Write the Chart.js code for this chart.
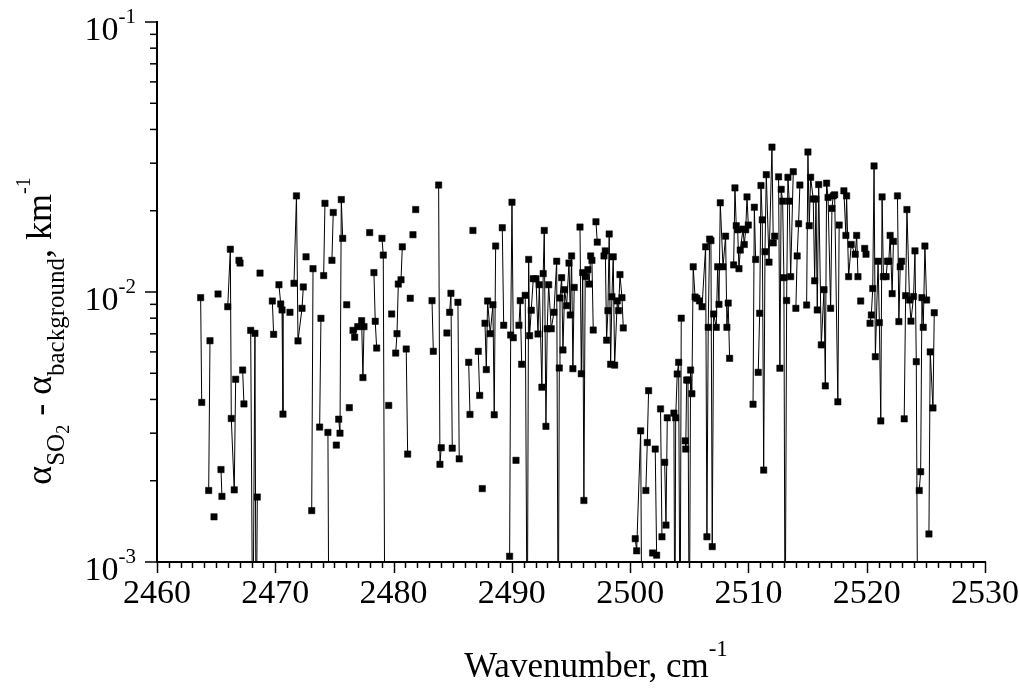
<!DOCTYPE html>
<html>
<head>
<meta charset="utf-8">
<title>SO2 minus background absorption</title>
<script src="https://cdn.jsdelivr.net/npm/chart.js@4.4.1/dist/chart.umd.min.js"></script>
<style>
  body { margin: 0; background: #fff; }
  #wrap { width: 1019px; height: 689px; }
</style>
</head>
<body>
<div id="wrap"><canvas id="chart" width="1019" height="689"></canvas></div>
<script>
// x values (cm-1); a null in alphaDiff breaks the line like a missing point
var wavenumber = [
  2463.69, 2463.78, 2464.00, 2464.37, 2464.48, 2464.65, 2464.82, 2465.00, 2465.16, 2465.30,
  2465.41, 2465.49, 2465.70, 2465.98, 2466.20, 2466.28, 2466.53, 2466.65, 2466.80, 2466.93,
  2467.02, 2467.10, 2467.24, 2467.35, 2467.60, 2467.92, 2468.10, 2468.28, 2468.38, 2468.48,
  2468.60, 2468.71, 2469.20, 2469.75, 2469.86, 2470.10, 2470.31, 2470.46, 2470.57, 2470.65,
  2470.90, 2471.24, 2471.40, 2471.58, 2471.79, 2471.92, 2472.26, 2472.37, 2472.50, 2472.60,
  2472.80, 2473.08, 2473.19, 2473.50, 2473.75, 2473.86, 2474.00, 2474.09, 2474.20, 2474.30,
  2474.45, 2474.54, 2474.65, 2474.79, 2474.90, 2475.00, 2475.16, 2475.25, 2475.36, 2475.47,
  2475.58, 2475.70, 2475.85, 2476.04, 2476.15, 2476.26, 2476.40, 2476.57, 2476.71, 2476.97,
  2477.30, 2477.41, 2477.50, 2477.70, 2477.98, 2478.20, 2478.34, 2478.45, 2478.57, 2478.80,
  2479.02, 2479.13, 2479.27, 2479.40, 2479.59, 2479.70, 2479.84, 2480.00, 2480.18, 2480.29,
  2480.40, 2480.63, 2480.74, 2480.90, 2481.07, 2481.19, 2481.30, 2481.41, 2481.50, 2481.64,
  2481.75, 2481.87, 2482.50, 2483.25, 2483.36, 2483.60, 2483.81, 2483.92, 2484.03, 2484.30,
  2484.51, 2484.60, 2484.74, 2484.85, 2484.96, 2485.20, 2485.44, 2485.55, 2485.90, 2486.35,
  2486.46, 2486.60, 2486.71, 2486.90, 2487.16, 2487.28, 2487.40, 2487.50, 2487.60, 2487.73,
  2487.84, 2487.95, 2488.17, 2488.40, 2488.51, 2488.63, 2488.90, 2489.19, 2489.31, 2489.60,
  2489.81, 2489.90, 2490.01, 2490.12, 2490.25, 2490.35, 2490.50, 2490.60, 2490.71, 2490.83,
  2491.00, 2491.13, 2491.30, 2491.42, 2491.50, 2491.64, 2491.81, 2492.04, 2492.21, 2492.32,
  2492.54, 2492.65, 2492.74, 2492.88, 2492.99, 2493.11, 2493.33, 2493.56, 2493.79, 2493.92,
  2494.01, 2494.07, 2494.21, 2494.32, 2494.46, 2494.63, 2494.83, 2494.94, 2495.05, 2495.16,
  2495.27, 2495.50, 2495.76, 2495.87, 2495.99, 2496.09, 2496.20, 2496.43, 2496.54, 2496.66,
  2496.77, 2496.88, 2497.00, 2497.11, 2497.22, 2497.50, 2497.79, 2497.90, 2498.01, 2498.12,
  2498.23, 2498.35, 2498.46, 2498.57, 2498.69, 2498.91, 2499.02, 2499.14, 2499.31, 2499.42,
  2499.90, 2500.43, 2500.55, 2500.89, 2501.00, 2501.20, 2501.33, 2501.45, 2501.56, 2501.70,
  2501.90, 2502.00, 2502.12, 2502.24, 2502.40, 2502.57, 2502.69, 2502.80, 2502.92, 2503.03,
  2503.14, 2503.40, 2503.70, 2503.78, 2503.85, 2503.98, 2504.10, 2504.22, 2504.32, 2504.50,
  2504.66, 2504.70, 2504.78, 2504.89, 2505.00, 2505.11, 2505.22, 2505.33, 2505.49, 2505.64,
  2505.86, 2506.08, 2506.38, 2506.49, 2506.60, 2506.72, 2506.83, 2506.94, 2507.06, 2507.28,
  2507.40, 2507.51, 2507.62, 2507.85, 2508.07, 2508.18, 2508.29, 2508.41, 2508.60, 2508.75,
  2508.86, 2508.97, 2509.09, 2509.20, 2509.31, 2509.54, 2509.65, 2509.77, 2509.88, 2509.99,
  2510.20, 2510.39, 2510.50, 2510.61, 2510.70, 2510.83, 2510.95, 2511.06, 2511.17, 2511.29,
  2511.40, 2511.51, 2511.74, 2511.99, 2512.10, 2512.22, 2512.40, 2512.55, 2512.66, 2512.77,
  2512.89, 2513.00, 2513.10, 2513.23, 2513.34, 2513.45, 2513.57, 2513.79, 2513.90, 2514.01,
  2514.12, 2514.24, 2514.35, 2514.60, 2514.92, 2515.03, 2515.14, 2515.26, 2515.48, 2515.60,
  2515.71, 2515.82, 2515.94, 2516.16, 2516.39, 2516.50, 2516.61, 2516.73, 2516.95, 2517.06,
  2517.17, 2517.29, 2517.56, 2517.67, 2517.85, 2518.07, 2518.24, 2518.30, 2518.47, 2518.69,
  2519.03, 2519.15, 2519.26, 2519.40, 2519.49, 2519.65, 2519.83, 2519.94, 2520.10, 2520.28,
  2520.39, 2520.51, 2520.62, 2520.73, 2520.96, 2521.07, 2521.19, 2521.30, 2521.41, 2521.64,
  2521.75, 2521.87, 2521.98, 2522.15, 2522.26, 2522.45, 2522.60, 2522.72, 2522.83, 2522.95,
  2523.05, 2523.17, 2523.29, 2523.40, 2523.62, 2523.74, 2523.96, 2524.08, 2524.19, 2524.32,
  2524.38, 2524.44, 2524.56, 2524.67, 2524.78, 2524.92, 2525.06, 2525.15, 2525.26, 2525.37,
  2525.60, 2525.71
];

// alpha(SO2) - alpha(background), km-1 ; 0.0004 = dips below the 1e-3 floor
var alphaDiff = [
  0.00953, 0.0039, null, 0.00184, 0.0066, null, 0.00147, null, 0.00983, null,
  0.0022, 0.00175, null, 0.00882, 0.0144, 0.0034, 0.00185, 0.00475, null, 0.0131,
  0.0128, null, 0.00514, 0.00385, null, 0.00721, 0.0004, 0.00703, 0.0004, 0.00174,
  null, 0.01175, null, 0.00926, 0.00697, null, 0.01064, 0.00903, 0.00858, 0.00353,
  null, 0.00841, null, 0.01077, 0.0227, 0.00659, 0.0087, 0.01044, null, 0.0135,
  null, 0.00155, 0.0122, null, 0.00316, 0.00799, null, 0.0115, 0.0213, null,
  0.00302, 0.0004, null, 0.0131, 0.0197, null, 0.00271, null, 0.00338, 0.003,
  0.022, 0.0158, null, 0.00897, null, 0.00373, null, 0.00721, 0.0068, 0.00744,
  0.00783, 0.00482, 0.00744, null, 0.0166, null, 0.0118, 0.00779, 0.0062, null,
  0.0158, 0.0137, 0.0004, null, 0.0038, null, 0.00829, null, 0.00594, 0.00701,
  0.0107, 0.0111, 0.0147, null, 0.00615, 0.00251, null, 0.00948, null, 0.0163,
  null, 0.0202, null, 0.00929, 0.00603, null, 0.0249, 0.0023, 0.00265, null,
  0.00705, null, 0.00841, 0.00989, 0.00264, null, 0.00916, 0.00241, null, 0.00549,
  0.00352, null, 0.0169, null, 0.00603, 0.00414, null, 0.00187, null, 0.00766,
  0.00516, 0.00926, 0.00701, 0.00897, 0.00351, 0.0148, null, 0.0173, 0.00753, null,
  0.00105, 0.00693, 0.0215, 0.00677, null, 0.00238, null, 0.00753, 0.00929, 0.0054,
  null, 0.00972, 0.0004, 0.0132, 0.00689, 0.00856, 0.0112, 0.0112, 0.00699, 0.01064,
  0.00444, 0.0117, 0.0169, 0.00318, 0.00731, 0.01064, 0.00731, 0.00841, 0.013, 0.0004,
  0.00523, 0.0095, 0.0113, 0.0061, 0.0102, 0.0089, 0.0128, 0.00822, 0.0136, 0.0052,
  0.0104, null, 0.0174, 0.00498, 0.0118, 0.00169, 0.0114, 0.0121, 0.0107, 0.0136,
  0.0131, 0.00723, null, 0.0182, 0.0153, null, 0.0136, 0.0142, 0.00663, 0.00853,
  0.0164, 0.0054, 0.0096, 0.0135, 0.00536, 0.00927, 0.00853, 0.0116, 0.00953, 0.00736,
  null, 0.00122, 0.0011, 0.00306, 0.0004, null, 0.00184, 0.00277, 0.00431, null,
  0.00108, null, 0.00262, 0.00106, null, 0.00369, 0.00124, null, 0.00234, 0.00137,
  0.00342, null, 0.00356, 0.0004, 0.00342, 0.00497, 0.00549, 0.0004, 0.008, null,
  0.00281, 0.00262, 0.00472, 0.00472, 0.0004, 0.00514, 0.0042, 0.0124, 0.00958, 0.00947,
  0.00927, 0.00882, 0.0147, 0.00124, 0.0074, 0.0157, 0.0155, 0.00114, 0.00829, 0.0074,
  0.0124, 0.009, 0.0214, 0.0124, 0.0161, 0.0074, 0.0091, 0.00568, null, 0.0126,
  0.0243, 0.0176, 0.017, 0.0122, 0.0143, 0.0171, 0.015, 0.017, 0.0225, 0.0177,
  null, 0.00384, 0.0206, 0.0132, null, 0.00504, 0.00834, 0.0248, 0.0185, 0.00219,
  0.0141, 0.0272, 0.0129, 0.0344, 0.0152, 0.0161, null, 0.0267, 0.00522, 0.024,
  0.0217, 0.0113, 0.0004, 0.0093, 0.0266, 0.0217, 0.0114, 0.0279, null, 0.0087,
  0.0136, 0.0179, 0.0249, null, 0.00895, 0.033, 0.0176, 0.0266, 0.0221, 0.011,
  0.0221, 0.00858, 0.025, 0.00637, 0.0102, 0.00449, 0.0253, 0.0224, 0.0087, 0.0204,
  0.0227, 0.0229, 0.00392, 0.0177, null, 0.0237, 0.0162, 0.0227, 0.0114, 0.015,
  0.0138, 0.0162, 0.0114, null, 0.00926, null, 0.0145, 0.0138, null, 0.00766,
  0.00822, 0.0103, 0.0293, 0.00576, 0.013, 0.0077, 0.00333, 0.0225, 0.0114, 0.0114,
  0.013, 0.013, 0.0162, 0.00986, 0.0154, null, 0.0227, 0.00777, 0.0124, 0.013,
  null, 0.00339, 0.00969, 0.0202, 0.00934, 0.0078, 0.00962, 0.0142, 0.00552, 0.0004,
  null, 0.00184, 0.00216, 0.00953, 0.0074, 0.0148, 0.00934, null, 0.00127, 0.006,
  0.00372, 0.00838
];

var xMin = 2460;
var xMax = 2530;
var xTickValues = [2460, 2470, 2480, 2490, 2500, 2510, 2520, 2530];
var xTickLabels = ["2460", "2470", "2480", "2490", "2500", "2510", "2520", "2530"];
var yTickValues = [0.001, 0.01, 0.1];
var yTickExponents = ["-3", "-2", "-1"];

var SERIF = '"Liberation Serif", "Times New Roman", serif';

// draws a row of text pieces with their own size and vertical shift (sub/superscripts)
function drawRuns(ctx, runs, x, y, align) {
    var total = 0;
    for (var i = 0; i < runs.length; i++) {
        ctx.font = runs[i].size + 'px ' + SERIF;
        runs[i].w = ctx.measureText(runs[i].text).width;
        total += runs[i].w;
    }
    var cx = x;
    if (align === 'center') cx = x - total / 2;
    if (align === 'right') cx = x - total;
    for (var j = 0; j < runs.length; j++) {
        ctx.font = runs[j].size + 'px ' + SERIF;
        ctx.fillText(runs[j].text, cx, y + runs[j].dy);
        cx += runs[j].w;
    }
}

function line(ctx, x1, y1, x2, y2) {
    ctx.beginPath();
    ctx.moveTo(x1, y1);
    ctx.lineTo(x2, y2);
    ctx.stroke();
}

var axesPlugin = {
    id: 'axesPlugin',
    afterDraw: function(chart) {
        var ctx = chart.ctx;
        var area = chart.chartArea;
        var xs = chart.scales.x;
        var ys = chart.scales.y;
        ctx.save();
        ctx.strokeStyle = '#000';
        ctx.fillStyle = '#000';
        ctx.textAlign = 'left';
        ctx.textBaseline = 'alphabetic';

        // axis lines
        ctx.lineWidth = 2;
        ctx.beginPath();
        ctx.moveTo(area.left, area.top - 1);
        ctx.lineTo(area.left, area.bottom);
        ctx.lineTo(area.right + 1, area.bottom);
        ctx.stroke();

        // x ticks, minor every 1
        ctx.lineWidth = 1.5;
        for (var v = xMin; v <= xMax; v++) {
            var px = Math.round(xs.getPixelForValue(v)) + 0.5;
            var len = (v % 10 === 0) ? 11 : 6;
            line(ctx, px, area.bottom, px, area.bottom + len);
        }
        // y ticks, minor at 2..9 of each decade
        for (var d = 0; d < yTickValues.length; d++) {
            var base = yTickValues[d];
            var py = ys.getPixelForValue(base);
            line(ctx, area.left, py, area.left - 12, py);
            if (d < yTickValues.length - 1) {
                for (var k = 2; k <= 9; k++) {
                    var pm = ys.getPixelForValue(base * k);
                    line(ctx, area.left, pm, area.left - 7, pm);
                }
            }
        }

        // x tick labels
        ctx.textAlign = 'center';
        ctx.font = '34px ' + SERIF;
        for (var t = 0; t < xTickValues.length; t++) {
            ctx.fillText(xTickLabels[t], xs.getPixelForValue(xTickValues[t]), area.bottom + 41);
        }
        ctx.textAlign = 'left';

        // y tick labels 10^n
        for (var e = 0; e < yTickValues.length; e++) {
            var ty = ys.getPixelForValue(yTickValues[e]);
            drawRuns(ctx, [
                { text: '10', size: 34, dy: 0 },
                { text: yTickExponents[e], size: 21, dy: -17 }
            ], area.left - 21, ty + 18, 'right');
        }

        // x title
        drawRuns(ctx, [
            { text: 'Wavenumber, cm', size: 35, dy: 0 },
            { text: '-1', size: 23, dy: -21 }
        ], 596, 677, 'center');

        // y title, rotated
        ctx.translate(51, 331);
        ctx.rotate(-Math.PI / 2);
        drawRuns(ctx, [
            { text: '\u03B1', size: 36, dy: 0 },
            { text: 'SO', size: 25, dy: 13 },
            { text: '2', size: 18, dy: 18 },
            { text: ' - \u03B1', size: 36, dy: 0 },
            { text: 'background', size: 25, dy: 13 },
            { text: ', km', size: 36, dy: 0 },
            { text: '-1', size: 20, dy: -21 }
        ], 0, 0, 'center');
        ctx.restore();
    }
};

var points = [];
for (var i = 0; i < wavenumber.length; i++) {
    points.push({ x: wavenumber[i], y: alphaDiff[i] });
}

new Chart(document.getElementById('chart'), {
    type: 'line',
    data: {
        datasets: [{
            data: points,
            borderColor: '#000',
            borderWidth: 1,
            backgroundColor: '#000',
            pointStyle: 'rect',
            pointRadius: 4.5,
            pointBorderWidth: 0.5,
            pointBackgroundColor: '#000',
            pointBorderColor: '#000',
            tension: 0,
            spanGaps: false,
            clip: { left: 8, top: 8, right: 8, bottom: 0 }
        }]
    },
    options: {
        responsive: false,
        animation: false,
        devicePixelRatio: 1,
        layout: { padding: { left: 157, right: 34, top: 22, bottom: 127 } },
        plugins: {
            legend: { display: false },
            tooltip: { enabled: false }
        },
        scales: {
            x: { type: 'linear', min: xMin, max: xMax, display: false },
            y: { type: 'logarithmic', min: 0.001, max: 0.1, display: false }
        }
    },
    plugins: [axesPlugin]
});
</script>
</body>
</html>
